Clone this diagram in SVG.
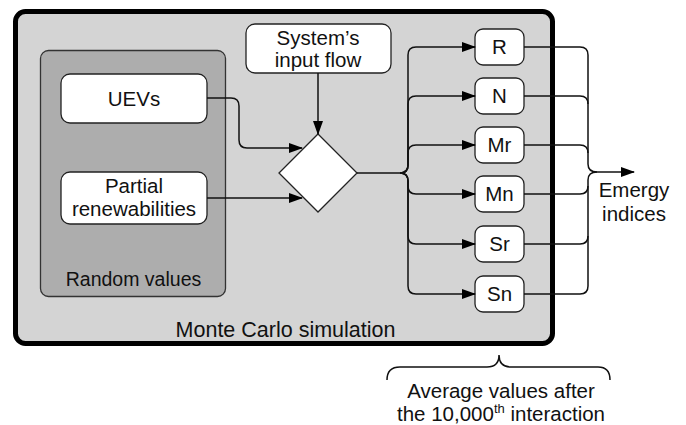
<svg xmlns="http://www.w3.org/2000/svg" width="686" height="425" viewBox="0 0 686 425">
<defs>
<marker id="ah" markerUnits="userSpaceOnUse" markerWidth="14" markerHeight="10" refX="13" refY="5" orient="auto">
<path d="M0,0 L14,5 L0,10 Z" fill="#000"/>
</marker>
<style>
text{font-family:"Liberation Sans",Arial,sans-serif;font-size:20.5px;fill:#111;text-anchor:middle}
.box{fill:#fff;stroke:#222;stroke-width:1.3}
.ln{fill:none;stroke:#111;stroke-width:1.5}
</style>
</defs>
<rect width="686" height="425" fill="#fff"/>
<g id="montecarlo">
<rect x="15.5" y="11.5" width="537" height="332" rx="10" fill="#d4d4d4" stroke="#000" stroke-width="5"/>
<text x="285.5" y="337" style="font-size:21.5px">Monte Carlo simulation</text>
</g>
<g id="random">
<rect x="40.5" y="50.5" width="185" height="246" rx="8" fill="#adadad" stroke="#333" stroke-width="1.3"/>
<text x="133.5" y="286" style="font-size:19.5px">Random values</text>
</g>
<g id="uevs">
<rect class="box" x="61" y="74" width="146" height="49" rx="9"/>
<text x="134" y="106">UEVs</text>
</g>
<g id="partial">
<rect class="box" x="61" y="172" width="146" height="52" rx="9"/>
<text x="134" y="193">Partial</text>
<text x="134" y="216">renewabilities</text>
</g>
<g id="system">
<rect class="box" x="246" y="24" width="145" height="49" rx="9"/>
<text x="318" y="45">System’s</text>
<text x="318" y="67">input flow</text>
</g>
<g id="decision">
<polygon points="318,134 357,173 318,212 279,173" fill="#fff" stroke="#222" stroke-width="1.3"/>
</g>
<g id="R"><rect class="box" x="475" y="29" width="49" height="36" rx="8"/><text x="499.5" y="54">R</text></g>
<g id="N"><rect class="box" x="475" y="78" width="49" height="36" rx="8"/><text x="499.5" y="103">N</text></g>
<g id="Mr"><rect class="box" x="475" y="127" width="49" height="36" rx="8"/><text x="499.5" y="152">Mr</text></g>
<g id="Mn"><rect class="box" x="475" y="176" width="49" height="36" rx="8"/><text x="499.5" y="201">Mn</text></g>
<g id="Sr"><rect class="box" x="475" y="226" width="49" height="36" rx="8"/><text x="499.5" y="251">Sr</text></g>
<g id="Sn"><rect class="box" x="475" y="276" width="49" height="36" rx="8"/><text x="499.5" y="301">Sn</text></g>
<g id="connectors">
<path class="ln" d="M318,73 V134" marker-end="url(#ah)"/>
<path class="ln" d="M207,98 H231 Q239,98 239,106 V140 Q239,148 247,148 H302" marker-end="url(#ah)"/>
<path class="ln" d="M207,198 H302" marker-end="url(#ah)"/>
<path class="ln" d="M357,173 H400 Q408,173 408,165 V55 Q408,47 416,47 H475" marker-end="url(#ah)"/>
<path class="ln" d="M400,173 Q408,173 408,165 V104 Q408,96 416,96 H475" marker-end="url(#ah)"/>
<path class="ln" d="M400,173 Q408,173 408,165 V153 Q408,145 416,145 H475" marker-end="url(#ah)"/>
<path class="ln" d="M400,173 Q408,173 408,181 V186 Q408,194 416,194 H475" marker-end="url(#ah)"/>
<path class="ln" d="M400,173 Q408,173 408,181 V236 Q408,244 416,244 H475" marker-end="url(#ah)"/>
<path class="ln" d="M400,173 Q408,173 408,181 V286 Q408,294 416,294 H475" marker-end="url(#ah)"/>
<path class="ln" d="M524,47 H580 Q588,47 588,55 V164 Q588,172 597,172"/>
<path class="ln" d="M524,96 H580 Q588,96 588,104"/>
<path class="ln" d="M524,145 H580 Q588,145 588,153"/>
<path class="ln" d="M524,194 H580 Q588,194 588,186"/>
<path class="ln" d="M524,244 H580 Q588,244 588,236"/>
<path class="ln" d="M524,294 H580 Q588,294 588,286 V180 Q588,172 597,172"/>
<path class="ln" d="M597,172 H634" marker-end="url(#ah)"/>
<path class="ln" d="M387,380 Q387,367 400,367 H487 Q499,367 499,355 Q499,367 511,367 H598 Q610,367 610,380"/>
</g>
<g id="labels">
<text x="634" y="197">Emergy</text>
<text x="634" y="221">indices</text>
<text x="501" y="398">Average values after</text>
<text x="501" y="421">the 10,000<tspan font-size="13" dy="-8">th</tspan><tspan dy="8"> interaction</tspan></text>
</g>
</svg>
